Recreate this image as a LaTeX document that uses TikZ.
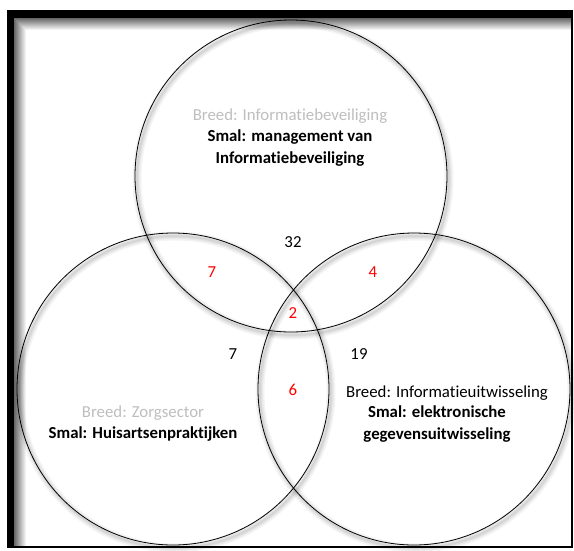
\documentclass[tikz,border=0pt]{standalone}
\usepackage{fontspec}
\setmainfont{Carlito}[Ligatures={NoCommon}]
\definecolor{breedgray}{RGB}{190,190,190}
\definecolor{numred}{RGB}{255,0,0}
\tikzset{
  vennline/.style={draw=black, line width=0.8pt},
  vshadow/.style={draw=black, opacity=0.045},
  lbl/.style={font=\fontsize{16.8}{21.5}\selectfont, align=center, inner sep=0pt},
  lblb/.style={lbl, font=\bfseries\fontsize{16.8}{21.5}\selectfont},
  num/.style={font=\fontsize{16.8}{18}\selectfont, inner sep=0pt},
}
\begin{document}
\begin{tikzpicture}[x=1pt,y=-1pt]
\useasboundingbox (0,0) rectangle (574,550);
% frame
\fill[black] (7,10) rectangle (573,548);
\fill[white] (14,18) rectangle (571,546);
\foreach \i in {0,...,11} {
  \pgfmathsetmacro{\c}{60-5*\i}
  \fill[black!\c] (14+\i,18+\i) rectangle (15+\i,546);
  \fill[black!\c] (14+\i,18+\i) rectangle (571,19+\i);
}
% circle shadows
\foreach \cx/\cy in {291/176, 173/389, 414/389} {
  \foreach \w in {9,6,3.5,1.5} {
    \draw[vshadow, line width=\w pt] (\cx+2,\cy+3) circle[radius=156];
  }
}
% circles
\draw[vennline] (291,176) circle[radius=156];
\draw[vennline] (173,389) circle[radius=156];
\draw[vennline] (414,389) circle[radius=156];
% labels
\node[lbl, text=breedgray] (tbreed) at (290,116) {Breed: Informatiebeveiliging};
\node[lblb] (tsmal) at (290,148) {Smal: management van\\Informatiebeveiliging};
\node[lbl, text=breedgray] (lbreed) at (143,413) {Breed: Zorgsector};
\node[lblb] (lsmal) at (143,434) {Smal: Huisartsenpraktijken};
\node[lbl] (rbreed) at (447,393) {Breed: Informatieuitwisseling};
\node[lblb] (rsmal) at (437,424) {Smal: elektronische\\gegevensuitwisseling};
% numbers
\node[num] (n32) at (293,242) {32};
\node[num, text=numred] (n7r) at (212,272) {7};
\node[num, text=numred] (n4) at (373,272) {4};
\node[num, text=numred] (n2) at (293,313) {2};
\node[num] (n7) at (233,354) {7};
\node[num] (n19) at (359,354) {19};
\node[num, text=numred] (n6) at (293,390) {6};
\end{tikzpicture}
\end{document}
